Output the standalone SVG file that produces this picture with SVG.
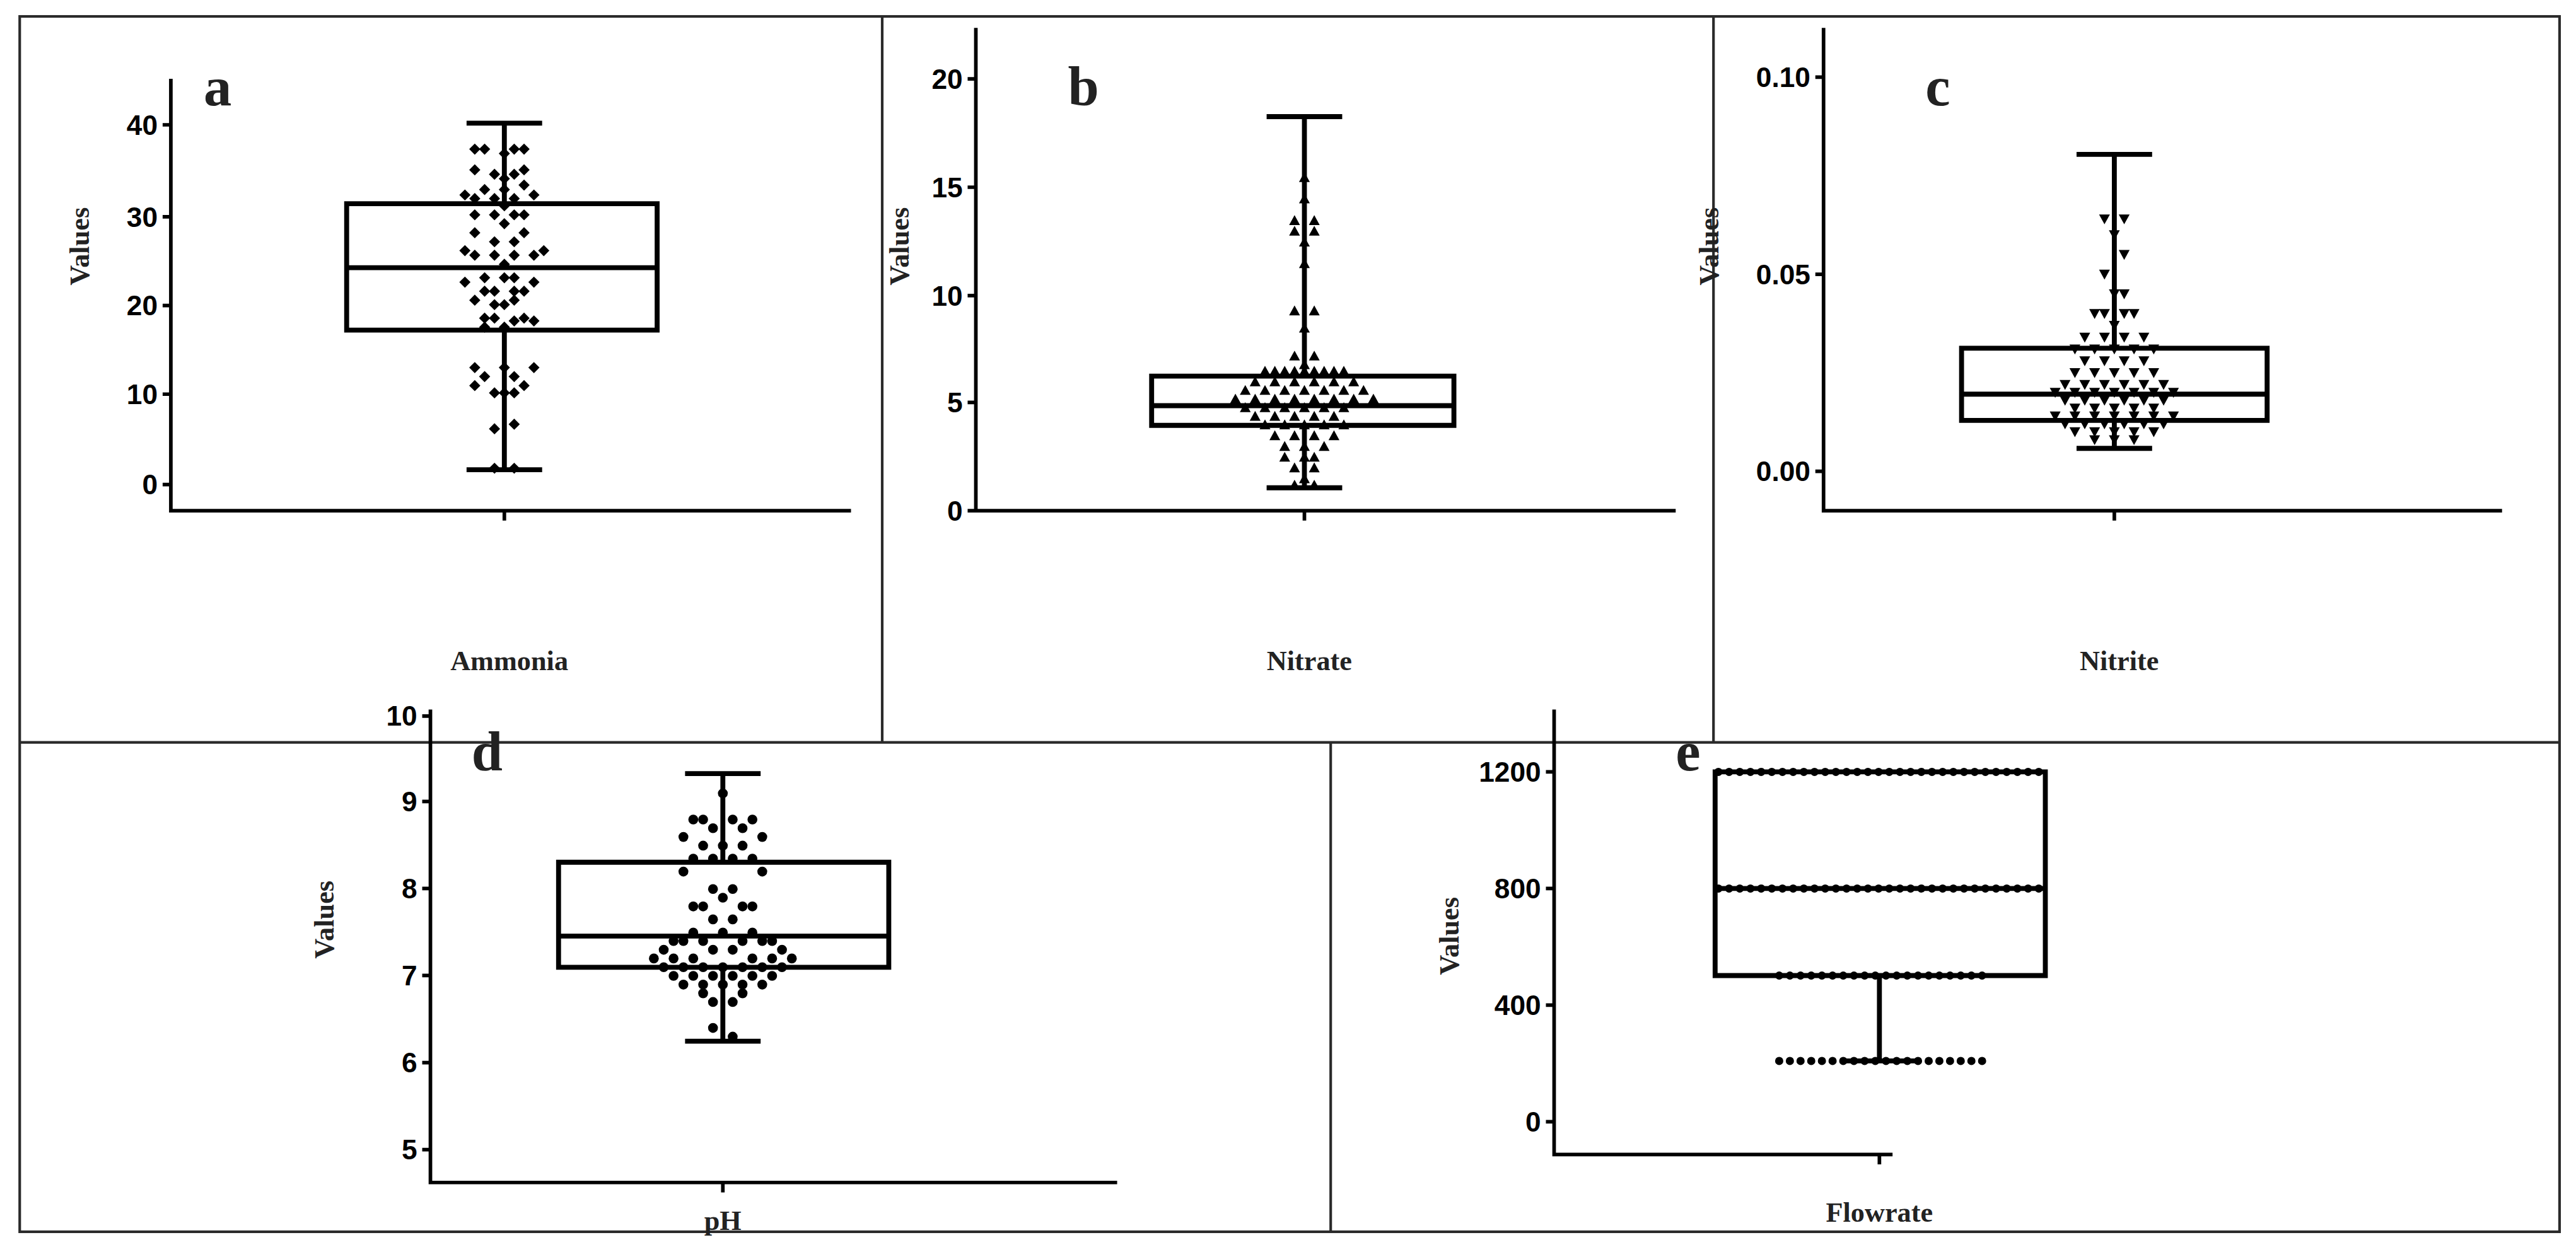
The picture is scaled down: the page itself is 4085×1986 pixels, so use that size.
<svg xmlns="http://www.w3.org/2000/svg" width="4085" height="1986" viewBox="0 0 4085 1986">
<style>
.frame{fill:none;stroke:#2a2a2a;stroke-width:1.6}
.ax{fill:none;stroke:#000;stroke-width:2.2}
.bx{fill:none;stroke:#000;stroke-width:3}
.tk{font-family:"Liberation Sans Narrow","Liberation Sans",Arial,sans-serif;font-weight:bold;font-size:17px;text-anchor:end;fill:#000}
.yl{font-family:"Liberation Serif","Times New Roman",serif;font-weight:bold;font-size:17px;text-anchor:middle;fill:#222}
.xl{font-family:"Liberation Serif","Times New Roman",serif;font-weight:bold;font-size:17px;text-anchor:middle;fill:#222}
.pl{font-family:"Liberation Serif","Times New Roman",serif;font-weight:bold;font-size:34px;fill:#222}
.pts{fill:none;stroke:none}
.dia{marker-start:url(#mdia);marker-mid:url(#mdia);marker-end:url(#mdia)}
.tup{marker-start:url(#mtup);marker-mid:url(#mtup);marker-end:url(#mtup)}
.tdn{marker-start:url(#mtdn);marker-mid:url(#mtdn);marker-end:url(#mtdn)}
.cir{marker-start:url(#mcir);marker-mid:url(#mcir);marker-end:url(#mcir)}
.dots{fill:none;stroke:#000;stroke-width:5;stroke-linecap:round;stroke-dasharray:0 6.5}
</style>
<defs>
<marker id="mdia" markerUnits="userSpaceOnUse" markerWidth="8" markerHeight="8" refX="4" refY="4" overflow="visible"><path d="M4 0.6L7.4 4L4 7.4L0.6 4Z" fill="#000"/></marker>
<marker id="mtup" markerUnits="userSpaceOnUse" markerWidth="8" markerHeight="8" refX="4" refY="4" overflow="visible"><path d="M4 0.8L7.3 6.8L0.7 6.8Z" fill="#000"/></marker>
<marker id="mtdn" markerUnits="userSpaceOnUse" markerWidth="8" markerHeight="8" refX="4" refY="4" overflow="visible"><path d="M0.7 1.2L7.3 1.2L4 7.2Z" fill="#000"/></marker>
<marker id="mcir" markerUnits="userSpaceOnUse" markerWidth="8" markerHeight="8" refX="4" refY="4" overflow="visible"><circle cx="4" cy="4" r="3" fill="#000"/></marker>
</defs>
<rect width="4085" height="1986" fill="#fff"/>
<g transform="scale(2.6052)">
<g id="frames">
<rect class="frame" x="12" y="10" width="1546" height="740"/>
<line class="frame" x1="12" y1="452" x2="1558" y2="452"/>
<line class="frame" x1="537" y1="10" x2="537" y2="452"/>
<line class="frame" x1="1043" y1="10" x2="1043" y2="452"/>
<line class="frame" x1="810" y1="452" x2="810" y2="750"/>
</g>

<g id="panel-a">
<path class="ax" d="M104 48V311H518M99 295H104M99 240H104M99 186H104M99 132H104M99 76H104M307 311V317"/>
<text class="tk" x="96" y="301">0</text><text class="tk" x="96" y="246">10</text><text class="tk" x="96" y="192">20</text><text class="tk" x="96" y="138">30</text><text class="tk" x="96" y="82">40</text>
<text class="yl" transform="translate(54,150) rotate(-90)">Values</text>
<text class="xl" x="310" y="408">Ammonia</text>
<text class="pl" x="124" y="64">a</text>
<path class="bx" d="M211 124H400V201H211ZM211 163H400M307 124V75M307 201V286M284 75H330M284 286H330"/>
<polyline class="pts dia" points="289,90.8 295,90.8 313,90.8 319,90.8 307,93.5 289,103.4 319,103.4 301,106.1 313,106.1 307,108.8 319,112.7 295,115.4 307,115.4 283,118.7 325,118.7 289,120.9 301,120.9 313,120.9 307,125.3 289,130.8 301,130.8 313,130.8 319,130.8 307,136.2 289,141.7 319,141.7 301,147.2 313,147.2 283,152.6 331,152.6 289,155.4 301,155.4 313,155.4 325,155.4 307,160.9 295,169.1 307,169.1 313,169.1 283,171.8 325,171.8 295,177.3 301,177.3 313,177.3 319,177.3 289,182.8 313,182.8 301,185.5 307,185.5 295,193.7 301,193.7 319,193.7 313,195.4 325,195.4 295,199.2 307,199.2 289,223.8 307,223.8 325,223.8 295,229.3 313,229.3 289,234.8 319,234.8 301,239.2 307,239.2 313,239.2 313,258.3 301,261.1 301,285.1 313,285.1"/>
</g>

<g id="panel-b">
<path class="ax" d="M594 17V311H1020M589 311H594M589 245H594M589 180H594M589 114H594M589 48H594M794 311V317"/>
<text class="tk" x="586" y="317">0</text><text class="tk" x="586" y="251">5</text><text class="tk" x="586" y="186">10</text><text class="tk" x="586" y="120">15</text><text class="tk" x="586" y="54">20</text>
<text class="yl" transform="translate(553,150) rotate(-90)">Values</text>
<text class="xl" x="797" y="408">Nitrate</text>
<text class="pl" x="650" y="64">b</text>
<path class="bx" d="M701 229H885V259H701ZM701 247H885M794 229V71M794 259V297M771 71H817M771 297H817"/>
<polyline class="pts tup" points="794,108 794,121 788,134.2 800,134.2 788,140.7 800,140.7 794,147.3 794,160.4 788,189.2 800,189.2 794,199.7 788,216.7 800,216.7 794,221.9 770,225.9 776,225.9 782,225.9 788,225.9 794,225.9 800,225.9 806,225.9 812,225.9 818,225.9 764,232.4 776,232.4 788,232.4 800,232.4 812,232.4 824,232.4 758,237.6 770,237.6 782,237.6 794,237.6 806,237.6 818,237.6 830,237.6 752,242.9 764,242.9 776,242.9 788,242.9 800,242.9 812,242.9 824,242.9 836,242.9 758,248.1 770,248.1 782,248.1 794,248.1 806,248.1 818,248.1 764,253.4 776,253.4 788,253.4 800,253.4 812,253.4 770,258.6 782,258.6 794,258.6 806,258.6 818,258.6 776,265.2 788,265.2 800,265.2 812,265.2 782,271.7 794,271.7 806,271.7 782,278.3 794,278.3 800,278.3 788,284.8 800,284.8 794,291.4 788,295.3 800,295.3"/>
</g>

<g id="panel-c">
<path class="ax" d="M1110 17V311H1523M1105 287H1110M1105 167H1110M1105 47H1110M1287 311V317"/>
<text class="tk" x="1102" y="293">0.00</text><text class="tk" x="1102" y="173">0.05</text><text class="tk" x="1102" y="53">0.10</text>
<text class="yl" transform="translate(1046,150) rotate(-90)">Values</text>
<text class="xl" x="1290" y="408">Nitrite</text>
<text class="pl" x="1172" y="64">c</text>
<path class="bx" d="M1194 212H1380V256H1194ZM1194 240H1380M1287 212V94M1287 256V273M1264 94H1310M1264 273H1310"/>
<polyline class="pts tdn" points="1281,133.4 1293,133.4 1287,143 1293,155 1281,167 1287,179 1293,179 1275,191 1281,191 1293,191 1299,191 1287,198.2 1269,205.4 1281,205.4 1293,205.4 1305,205.4 1263,212.6 1275,212.6 1287,212.6 1299,212.6 1311,212.6 1269,219.8 1281,219.8 1293,219.8 1305,219.8 1263,227 1275,227 1287,227 1299,227 1311,227 1257,234.2 1269,234.2 1281,234.2 1293,234.2 1305,234.2 1317,234.2 1251,239 1263,239 1275,239 1287,239 1299,239 1311,239 1323,239 1257,243.8 1269,243.8 1281,243.8 1293,243.8 1305,243.8 1317,243.8 1263,248.6 1275,248.6 1287,248.6 1299,248.6 1311,248.6 1251,253.4 1263,253.4 1275,253.4 1287,253.4 1299,253.4 1311,253.4 1323,253.4 1257,258.2 1269,258.2 1281,258.2 1293,258.2 1305,258.2 1317,258.2 1263,263 1275,263 1287,263 1299,263 1311,263 1275,267.8 1287,267.8 1299,267.8"/>
</g>

<g id="panel-d">
<path class="ax" d="M262 432V720H680M257 436H262M257 488H262M257 541H262M257 594H262M257 647H262M257 700H262M440 720V726"/>
<text class="tk" x="254" y="442">10</text><text class="tk" x="254" y="494">9</text><text class="tk" x="254" y="547">8</text><text class="tk" x="254" y="600">7</text><text class="tk" x="254" y="653">6</text><text class="tk" x="254" y="706">5</text>
<text class="yl" transform="translate(203,560) rotate(-90)">Values</text>
<text class="xl" x="440" y="749">pH</text>
<text class="pl" x="287" y="469">d</text>
<path class="bx" d="M340 525H541V589H340ZM340 570H541M440 525V471M440 589V634M417 471H463M417 634H463"/>
<polyline class="pts cir" points="440,483.1 422,499 428,499 446,499 458,499 434,504.3 452,504.3 416,509.6 464,509.6 428,514.9 440,514.9 452,514.9 422,522.8 434,522.8 446,522.8 458,522.8 416,530.7 464,530.7 434,541.3 446,541.3 440,546.6 422,551.9 428,551.9 452,551.9 458,551.9 434,559.8 446,559.8 422,567.8 440,567.8 458,567.8 410,573 416,573 428,573 452,573 464,573 470,573 404,578.3 434,578.3 446,578.3 476,578.3 398,583.6 410,583.6 422,583.6 458,583.6 470,583.6 482,583.6 404,588.9 416,588.9 428,588.9 440,588.9 452,588.9 464,588.9 476,588.9 410,594.2 422,594.2 434,594.2 446,594.2 458,594.2 470,594.2 416,599.5 428,599.5 440,599.5 452,599.5 464,599.5 428,604.8 452,604.8 434,610.1 446,610.1 434,625.9 446,631.2"/>
</g>

<g id="panel-e">
<path class="ax" d="M946 432V703H1152M941 470H946M941 541H946M941 612H946M941 683H946M1144 703V709"/>
<text class="tk" x="938" y="476">1200</text><text class="tk" x="938" y="547">800</text><text class="tk" x="938" y="618">400</text><text class="tk" x="938" y="689">0</text>
<text class="yl" transform="translate(888,570) rotate(-90)">Values</text>
<text class="xl" x="1144" y="744">Flowrate</text>
<text class="pl" x="1020" y="469">e</text>
<path class="bx" d="M1044 470H1245V594H1044ZM1044 541H1245M1144 594V646M1121 646H1167"/>
<line class="dots" x1="1046" y1="470" x2="1245" y2="470"/>
<line class="dots" x1="1046" y1="541" x2="1245" y2="541"/>
<line class="dots" x1="1083" y1="594" x2="1209" y2="594"/>
<line class="dots" x1="1083" y1="646" x2="1209" y2="646"/>
</g>
</g>
</svg>
